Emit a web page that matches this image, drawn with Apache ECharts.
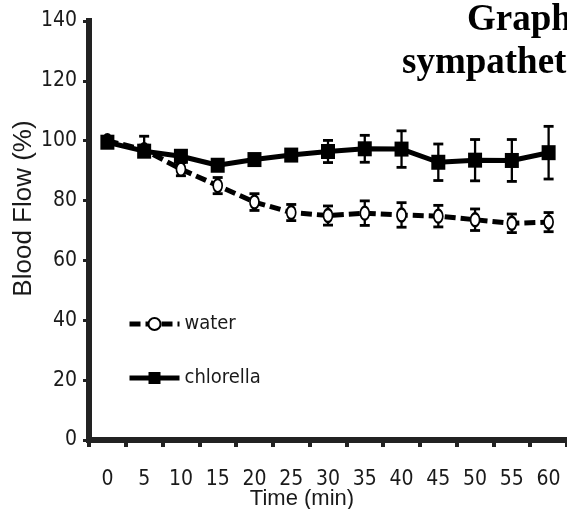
<!DOCTYPE html>
<html>
<head>
<meta charset="utf-8">
<script src="https://cdn.jsdelivr.net/npm/echarts@6/dist/echarts.min.js"></script>
<style>
html,body{margin:0;padding:0;background:#fff;}
#chart{width:567px;height:509px;}
</style>
</head>
<body>
<div id="chart"></div>
<script>
const timeLabels = ['0','5','10','15','20','25','30','35','40','45','50','55','60'];
const waterMean = [100, 97, 90.5, 85, 79.5, 76, 75, 75.8, 75.2, 74.8, 73.6, 72.4, 72.8];
const waterErrUp = [0, 1.5, 2.2, 2.7, 2.8, 2.7, 3.2, 4.1, 4.1, 3.6, 3.6, 3.1, 3.2];
const waterErrDown = [0, 1.5, 2.2, 2.7, 2.8, 2.7, 3.2, 4.1, 4.1, 3.6, 3.6, 3.1, 3.2];
const chlorellaMean = [99.5, 96.5, 94.8, 91.8, 93.7, 95.2, 96.4, 97.3, 97.2, 92.8, 93.5, 93.4, 96.0];
const chlorellaErrUp = [0, 5, 1.5, 1.5, 1.5, 1.5, 3.7, 4.5, 6.1, 6.1, 6.9, 7.0, 8.8];
const chlorellaErrDown = [0, 1.5, 1.5, 1.5, 1.5, 1.5, 3.7, 4.5, 6.1, 6.1, 6.9, 7.0, 8.8];
const yTicks = {min: 0, max: 140, interval: 20};

const narrow = "'Liberation Sans Narrow', 'Arial Narrow', 'DejaVu Sans Condensed', sans-serif";
const sans = "'Liberation Sans', Arial, Helvetica, sans-serif";
const serif = "'Liberation Serif', 'Times New Roman', serif";

function errData(mean, up, down) {
  return mean.map((m, i) => [i, m - down[i], m + up[i], up[i] + down[i]]);
}
function errRender(params, api) {
  if (api.value(3) <= 0) return null;
  const x = api.value(0);
  const pLo = api.coord([x, api.value(1)]);
  const pHi = api.coord([x, api.value(2)]);
  const cap = 5;
  const st = {stroke: '#000', lineWidth: 2.3};
  const cs = {stroke: '#000', lineWidth: 2.8};
  return {type: 'group', children: [
    {type: 'line', shape: {x1: pHi[0], y1: pHi[1], x2: pLo[0], y2: pLo[1]}, style: st},
    {type: 'line', shape: {x1: pHi[0] - cap, y1: pHi[1], x2: pHi[0] + cap, y2: pHi[1]}, style: cs},
    {type: 'line', shape: {x1: pLo[0] - cap, y1: pLo[1], x2: pLo[0] + cap, y2: pLo[1]}, style: cs}
  ]};
}

const chart = echarts.init(document.getElementById('chart'), null, {renderer: 'canvas'});
chart.setOption({
  backgroundColor: '#fff',
  animation: false,
  grid: {left: 89, right: 0, top: 21, bottom: 69, containLabel: false, outerBoundsMode: 'none'},
  graphic: [
    {type: 'text', left: 467, top: 2, style: {text: 'Graph', font: 'bold 37px ' + serif, fill: '#000'}},
    {type: 'text', left: 402, top: 45, style: {text: 'sympathet', font: 'bold 37px ' + serif, fill: '#000'}}
  ],
  legend: {
    orient: 'vertical',
    left: 122,
    top: 309,
    itemWidth: 50,
    itemHeight: 15,
    itemGap: 34,
    data: ['water', 'chlorella'],
    lineStyle: {width: 5},
    textStyle: {fontFamily: narrow, fontSize: 20, color: '#1a1a1a'}
  },
  xAxis: {
    type: 'category',
    data: timeLabels,
    boundaryGap: true,
    name: 'Time (min)',
    nameLocation: 'middle',
    nameGap: 48,
    nameMoveOverlap: false,
    nameTextStyle: {fontFamily: sans, fontSize: 22, color: '#1a1a1a', padding: [0, 52, 0, 0]},
    axisLine: {show: true, lineStyle: {color: '#222', width: 6, cap: 'square'}},
    axisTick: {show: true, length: 7, lineStyle: {color: '#222', width: 4}},
    axisLabel: {fontFamily: narrow, fontSize: 21, color: '#1a1a1a', margin: 29, interval: 0},
    splitLine: {show: false}
  },
  yAxis: {
    type: 'value',
    min: yTicks.min,
    max: yTicks.max,
    interval: yTicks.interval,
    name: 'Blood Flow (%)',
    nameLocation: 'middle',
    nameRotate: 90,
    nameGap: 52,
    nameMoveOverlap: false,
    nameTextStyle: {fontFamily: sans, fontSize: 26, color: '#1a1a1a', padding: [0, 0, 0, 44]},
    axisLine: {show: true, lineStyle: {color: '#222', width: 6, cap: 'square'}},
    axisTick: {show: true, length: 6, lineStyle: {color: '#222', width: 3}},
    axisLabel: {fontFamily: narrow, fontSize: 21, color: '#1a1a1a', margin: 12},
    splitLine: {show: false}
  },
  series: [
    {
      name: 'waterErr', type: 'custom', renderItem: errRender, z: 1,
      encode: {x: 0, y: [1, 2]}, data: errData(waterMean, waterErrUp, waterErrDown), silent: true
    },
    {
      name: 'chlorellaErr', type: 'custom', renderItem: errRender, z: 1,
      encode: {x: 0, y: [1, 2]}, data: errData(chlorellaMean, chlorellaErrUp, chlorellaErrDown), silent: true
    },
    {
      name: 'water', type: 'line', data: waterMean, z: 3,
      symbol: 'circle', symbolSize: [9, 13], showSymbol: true,
      lineStyle: {color: '#000', width: 5, type: [11, 5]},
      itemStyle: {color: '#fff', borderColor: '#000', borderWidth: 2}
    },
    {
      name: 'chlorella', type: 'line', data: chlorellaMean, z: 4,
      symbol: 'rect', symbolSize: [14, 15], showSymbol: true,
      lineStyle: {color: '#000', width: 5},
      itemStyle: {color: '#000', borderColor: '#000', borderWidth: 0}
    }
  ]
});
</script>
</body>
</html>
